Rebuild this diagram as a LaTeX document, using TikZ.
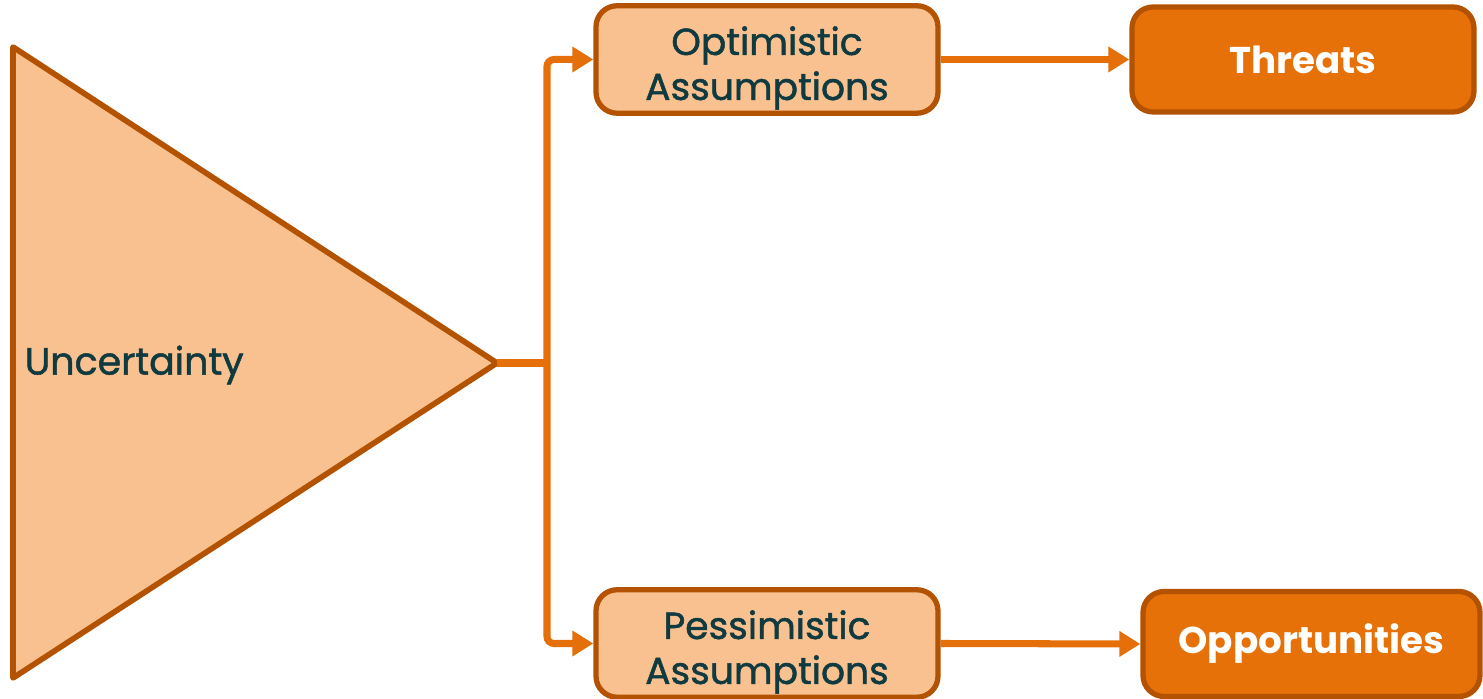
\documentclass[tikz,border=0pt]{standalone}
\usepackage{fontspec}
\setmainfont{Poppins}
\newfontfamily\medfont{Poppins}[FakeBold=1.3]
\usepackage{xcolor}
\usepackage{tikz}
\usetikzlibrary{arrows.meta,positioning,calc}

\definecolor{lightorange}{HTML}{F9C18F}
\definecolor{darkedge}{HTML}{B35200}
\definecolor{lineorange}{HTML}{E5700A}
\definecolor{boxorange}{HTML}{E57108}
\definecolor{textteal}{HTML}{0F3A40}

\begin{document}
\begin{tikzpicture}[
    assume/.style={draw=darkedge, line width=1.5pt, fill=lightorange, rounded corners=6pt,
        minimum width=3.42cm, minimum height=1.05cm, align=center, text=textteal,
        inner sep=1pt, font=\medfont\fontsize{10.7}{12.8}\selectfont},
    result/.style={draw=darkedge, line width=1.5pt, fill=boxorange, rounded corners=6pt,
        minimum height=1.05cm, text=white, font=\fontsize{10.6}{12}\selectfont\bfseries},
    link/.style={draw=lineorange, line width=2pt, -{Triangle[length=6pt,width=7pt]}}
]
    \useasboundingbox (0,0) rectangle (14.83,6.99);

    % Triangle
    \coordinate (top) at (0.13,6.52);
    \coordinate (bottom) at (0.13,0.21);
    \coordinate (apex) at (4.97,3.36);
    \draw[draw=darkedge, line width=1.6pt, fill=lightorange, line join=round] (top) -- (apex) -- (bottom) -- cycle;
    \node[anchor=west, inner sep=0pt, text=textteal, font=\medfont\fontsize{10.8}{12}\selectfont] (unc) at (0.24,3.34) {Uncertainty};

    % Assumptions
    \node[assume] (opt) at (7.67,6.395) {\rule{0pt}{13pt}Optimistic\\Assumptions};
    \node[assume] (pes) at (7.67,0.555) {\rule{0pt}{13pt}Pessimistic\\Assumptions};

    % Outcomes
    \node[result, minimum width=3.42cm] (thr) at (13.03,6.395) {Threats};
    \node[result, minimum width=3.37cm] (opp) at (13.115,0.55) {Opportunities};

    % Connectors
    \coordinate (fork) at (5.47,3.36);
    \draw[draw=lineorange, line width=2pt] (apex) -- (fork);
    \draw[link, rounded corners=2pt] (fork) |- (opt.west);
    \draw[link, rounded corners=2pt] (fork) |- (pes.west);
    \draw[link] (opt.east) -- (thr.west);
    \draw[link] (pes.east) -- (opp.west);
\end{tikzpicture}
\end{document}
